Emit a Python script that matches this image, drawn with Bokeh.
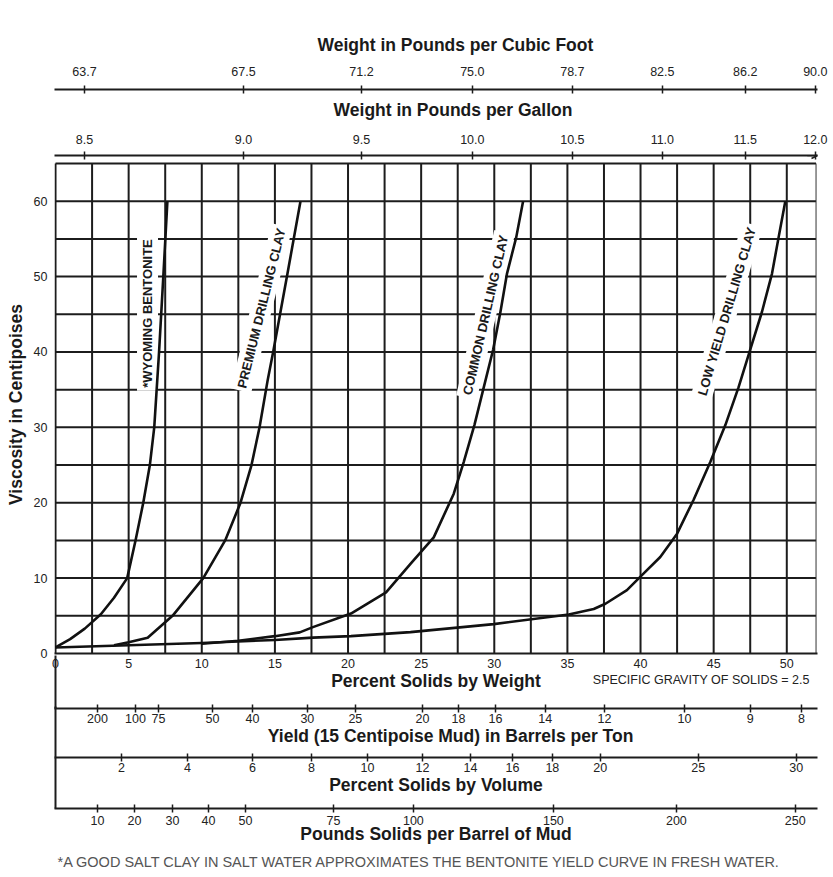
from bokeh.plotting import figure
from bokeh.models import (LinearAxis, FixedTicker, Arrow, OpenHead, Range1d, Title,
                          ColumnDataSource, CustomJSTickFormatter)
from bokeh.core.properties import value
from bokeh.embed import file_html
from bokeh.resources import INLINE
import numpy as np

# ---------------- data ----------------
weight_ticks = [0, 5, 10, 15, 20, 25, 30, 35, 40, 45, 50]
weight_labels = ["0", "5", "10", "15", "20", "25", "30", "35", "40", "45", "50"]
viscosity_ticks = [0, 10, 20, 30, 40, 50, 60]

gallon_labels = ["8.5", "9.0", "9.5", "10.0", "10.5", "11.0", "11.5", "12.0"]
cubic_labels = ["63.7", "67.5", "71.2", "75.0", "78.7", "82.5", "86.2", "90.0"]
density_pos = [1.98, 12.85, 20.92, 28.5, 35.34, 41.49, 47.16, 51.95]

yield_labels = ["200", "100", "75", "50", "40", "30", "25", "20", "18", "16", "14", "12", "10", "9", "8"]
yield_pos = [2.87, 5.47, 7.04, 10.73, 13.47, 17.22, 20.5, 25.09, 27.55, 30.08, 33.49, 37.53, 43.0, 47.5, 51.0]

volume_labels = ["2", "4", "6", "8", "10", "12", "14", "16", "18", "20", "25", "30"]
volume_pos = [4.51, 9.02, 13.47, 17.5, 21.33, 25.09, 28.37, 31.24, 33.97, 37.25, 43.95, 50.65]

pounds_labels = ["10", "20", "30", "40", "50", "75", "100", "150", "200", "250"]
pounds_pos = [2.87, 5.4, 8.0, 10.46, 12.99, 19.0, 24.47, 34.04, 42.45, 50.58]

wyoming_x = [0, 1, 2, 3.1, 4, 4.9, 5.47, 6.0, 6.45, 6.75, 7.08, 7.37, 7.65]
wyoming_y = [0.8, 1.9, 3.3, 5.2, 7.4, 10, 15, 20, 25, 30, 40, 50, 60]

premium_x = [4.0, 5.0, 6.3, 8.0, 10.1, 11.6, 12.65, 13.4, 13.95, 14.5, 14.9, 15.86, 16.75]
premium_y = [1.1, 1.5, 2.1, 5, 10, 15, 20, 25, 30, 36.2, 40.2, 50.4, 60]

common_x = [10, 12.5, 15, 16.7, 17.6, 20.2, 22.6, 24.27, 25.86, 27.23, 27.91, 28.64, 29.28, 29.92, 30.42, 30.87, 31.5, 31.97]
common_y = [1.3, 1.7, 2.3, 2.8, 3.5, 5.3, 8.1, 11.9, 15.4, 21.2, 25.4, 30.3, 35.3, 40.3, 45.3, 50.4, 55.2, 60]

low_x = [0, 5, 10, 15, 17.6, 20.2, 24.27, 29.96, 35.09, 36.8, 37.6, 39.07, 40.2, 41.35, 42.5, 43.63, 44.77, 45.8, 46.7, 47.5, 48.3, 48.99, 49.44, 49.9]
low_y = [0.8, 1.1, 1.4, 1.8, 2.1, 2.3, 2.83, 3.9, 5.17, 5.9, 6.6, 8.4, 10.6, 12.8, 15.9, 20.4, 25.4, 30.3, 35.3, 40.3, 45.3, 50.4, 55.2, 60]

curve_names = ["*WYOMING BENTONITE", "PREMIUM DRILLING CLAY", "COMMON DRILLING CLAY", "LOW YIELD DRILLING CLAY"]

sg_note = "SPECIFIC GRAVITY OF SOLIDS = 2.5"
footnote = "*A GOOD SALT CLAY IN SALT WATER APPROXIMATES THE BENTONITE YIELD CURVE IN FRESH WATER."

# ---------------- layout constants ----------------
INK = "#1c1c1c"
X_START, X_END = -0.07, 52.1
X_RIGHT = 52.0
Y_GRID_TOP = 65.0
Y_TOP = 66.06
FONT_NAME = "Liberation Sans"
NB = "\u00a0"
SG_POS = 44.15   # horizontal centre of the specific-gravity note

label_x = [6.29, 14.08, 29.4, 45.9]
label_y = [45.1, 45.8, 44.9, 45.4]
label_angle = [90, 76, 77, 73.4]

p = figure(width=833, height=877, output_backend="svg", toolbar_location=None,
           x_range=Range1d(X_START, X_END), y_range=Range1d(0, Y_TOP),
           min_border_left=54, min_border_right=16, min_border_top=155, min_border_bottom=224)
p.outline_line_color = None
p.xgrid.visible = False
p.ygrid.visible = False
p.background_fill_color = "white"
p.border_fill_color = "white"


def fmt(pos, labels):
    return CustomJSTickFormatter(args=dict(pos=pos, labels=labels), code="""
        for (let i = 0; i < pos.length; i++) {
            if (Math.abs(tick - pos[i]) < 1e-6) { return labels[i]; }
        }
        return "";
    """)


def style(ax, title, tick_in, tick_out, lstand, tstand, line_height=1.2):
    ax.axis_label = title
    ax.axis_line_color = INK
    ax.axis_line_width = 2
    ax.major_tick_in = tick_in
    ax.major_tick_out = tick_out
    ax.major_tick_line_color = INK
    ax.major_tick_line_width = 1.5
    ax.minor_tick_line_color = None
    ax.major_label_standoff = lstand
    ax.axis_label_standoff = tstand
    ax.major_label_text_font = FONT_NAME
    ax.major_label_text_font_size = "12.5px"
    ax.major_label_text_color = "#222222"
    ax.axis_label_text_font = FONT_NAME
    ax.axis_label_text_font_size = "17.5px"
    ax.axis_label_text_font_style = "bold"
    ax.axis_label_text_color = "#1a1a1a"
    ax.axis_label_text_line_height = line_height


def frame_tick(ax, length):
    # a long minor tick at x=0 continues the left frame line down through the scales
    ax.minor_tick_line_color = INK
    ax.minor_tick_line_width = 2
    ax.minor_tick_in = length
    ax.minor_tick_out = 0


# main bottom axis: percent solids by weight (+ specific gravity note on its second line)
xa = p.xaxis[0]
xa.ticker = FixedTicker(ticks=weight_ticks + [SG_POS])
xa.formatter = fmt(weight_ticks + [SG_POS], weight_labels + ["\n" + sg_note])
style(xa, "Percent Solids by Weight\n", 0, 0, 3, -19, 0.7)
xa.major_label_text_line_height = 1.2

# main left axis: viscosity
ya = p.yaxis[0]
ya.ticker = FixedTicker(ticks=viscosity_ticks)
style(ya, "Viscosity in Centipoises", 0, 0, 7, 5)
ya.axis_line_color = None

# stacked bottom axes
ax_yield = LinearAxis(ticker=FixedTicker(ticks=yield_pos, minor_ticks=[0]),
                      formatter=fmt(yield_pos, yield_labels))
style(ax_yield, NB * 6 + "Yield (15 Centipoise Mud) in Barrels per Ton\n", 4, 4, 1, 0, 0.44)
frame_tick(ax_yield, 53)
p.add_layout(ax_yield, "below")

ax_vol = LinearAxis(ticker=FixedTicker(ticks=volume_pos, minor_ticks=[0]),
                    formatter=fmt(volume_pos, volume_labels))
style(ax_vol, "Percent Solids by Volume\n", 4, 4, 1, 0, 0.54)
frame_tick(ax_vol, 51)
p.add_layout(ax_vol, "below")

ax_lb = LinearAxis(ticker=FixedTicker(ticks=pounds_pos, minor_ticks=[0]),
                   formatter=fmt(pounds_pos, pounds_labels))
style(ax_lb, "Pounds Solids per Barrel of Mud", 4, 4, 3, -4)
frame_tick(ax_lb, 51)
p.add_layout(ax_lb, "below")

foot = Title(text=footnote, align="left", offset=3, standoff=10,
             text_font=FONT_NAME, text_font_size="14.5px", text_font_style="normal",
             text_color="#555555")
p.add_layout(foot, "below")

# stacked top axes
ax_gal = LinearAxis(ticker=FixedTicker(ticks=density_pos), formatter=fmt(density_pos, gallon_labels))
style(ax_gal, "\n" + NB * 7 + "Weight in Pounds per Gallon", 4, 4, 8, 12, 0.37)
p.add_layout(ax_gal, "above")

ax_cf = LinearAxis(ticker=FixedTicker(ticks=density_pos), formatter=fmt(density_pos, cubic_labels))
style(ax_cf, NB * 8 + "Weight in Pounds per Cubic Foot", 4, 4, 10, 9)
p.add_layout(ax_cf, "above")

# ---------------- grid (drawn inside the chart box) ----------------
vx = np.arange(2.5, 50.01, 2.5)
p.segment(x0=vx, y0=0, x1=vx, y1=Y_GRID_TOP, line_color=INK, line_width=2)
hy = np.arange(5, 60.01, 5)
p.segment(x0=0, y0=hy, x1=X_RIGHT, y1=hy, line_color=INK, line_width=2)
p.segment(x0=[0, 0], y0=[0, Y_GRID_TOP], x1=[0, X_RIGHT], y1=[Y_GRID_TOP, Y_GRID_TOP],
          line_color=INK, line_width=2)
p.segment(x0=[X_RIGHT], y0=[0], x1=[X_RIGHT], y1=[Y_GRID_TOP], line_color="#333333", line_width=1)

# curve labels with white boxes that break the grid
lab_src = ColumnDataSource(dict(x=label_x, y=label_y, text=curve_names,
                                angle=list(np.deg2rad(label_angle))))
p.text("x", "y", "text", angle="angle", source=lab_src, text_align="center",
       text_baseline="middle", text_font=value(FONT_NAME), text_font_size="13px", text_font_style="bold",
       text_color="#1a1a1a", background_fill_color="white", padding=3)

# curves
for cx, cy in [(wyoming_x, wyoming_y), (premium_x, premium_y), (common_x, common_y), (low_x, low_y)]:
    p.line(cx, cy, line_color="#111111", line_width=2.6, line_join="round")

# arrow at end of the gallon scale
p.add_layout(Arrow(end=OpenHead(size=6, line_color=INK, line_width=1.5), x_start=51.4, y_start=Y_TOP,
                   x_end=52.1, y_end=Y_TOP, line_color=INK, line_width=1.5))

open("out.html", "w").write(file_html(p, INLINE))
